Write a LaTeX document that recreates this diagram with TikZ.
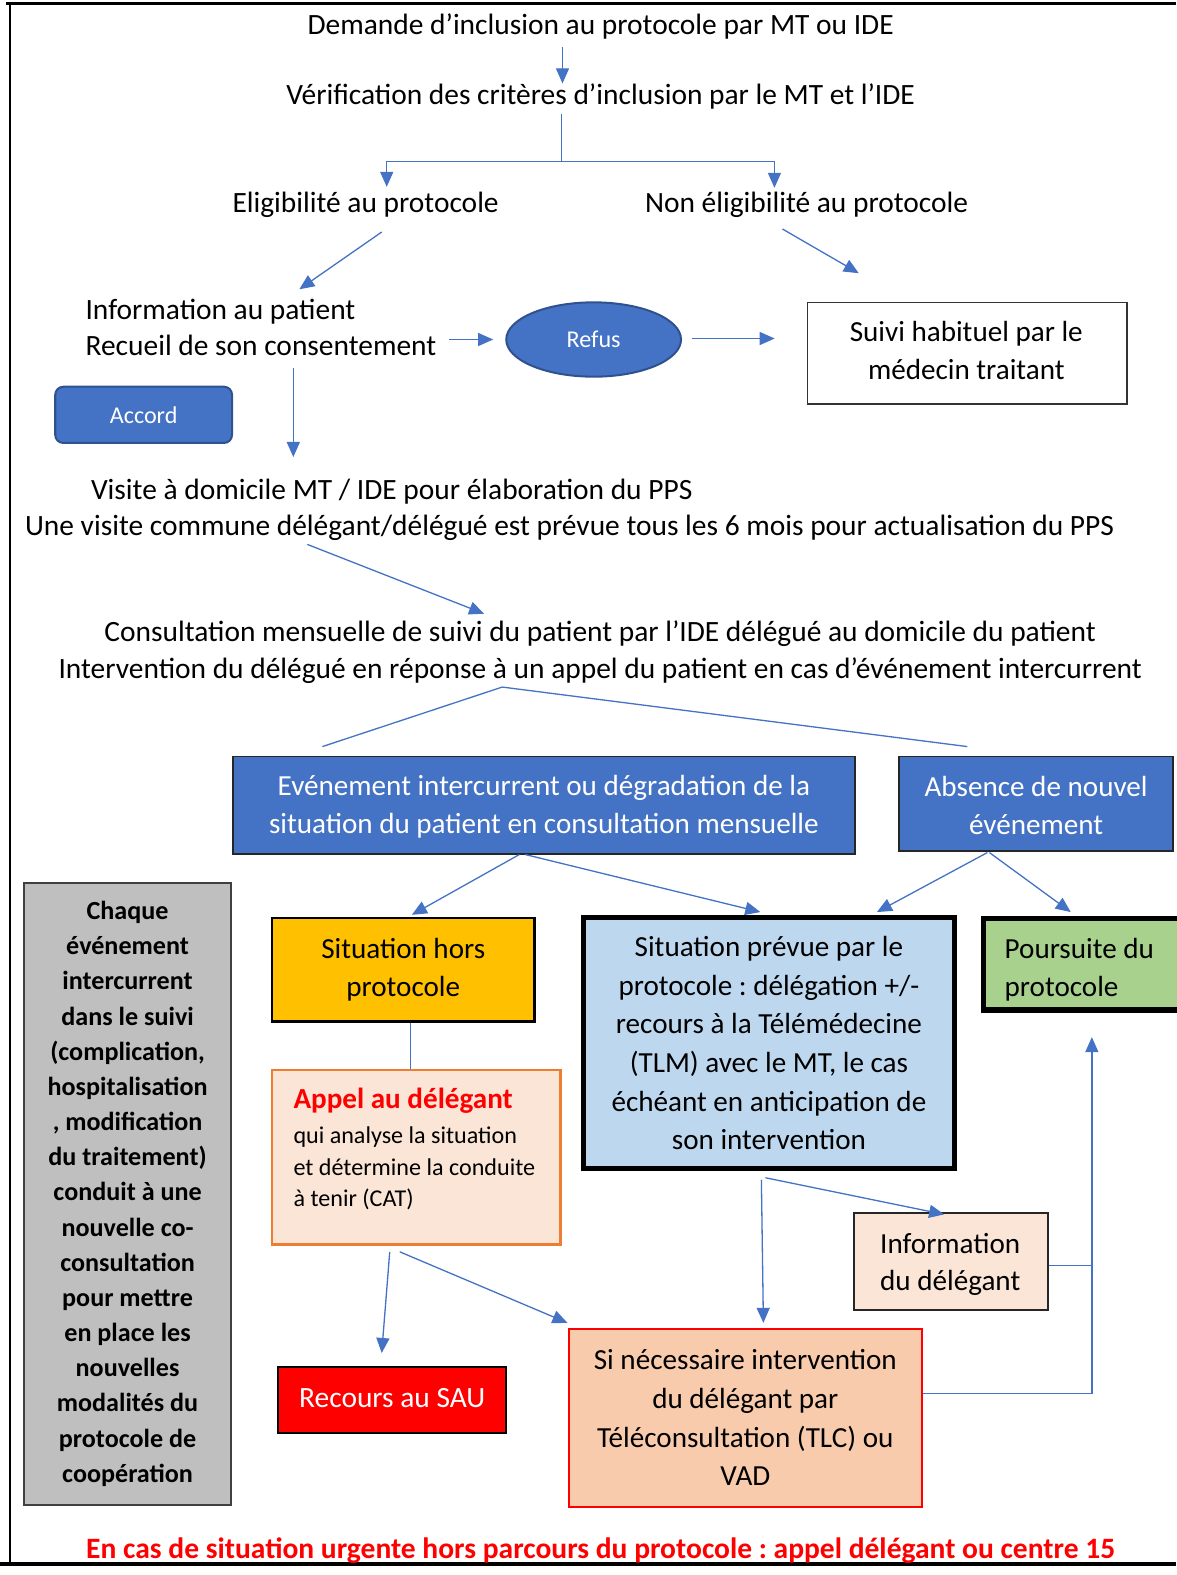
\documentclass[tikz,border=0pt]{standalone}
\usepackage{fontspec}
\setmainfont{Carlito}
\frenchspacing
\usetikzlibrary{arrows.meta,shapes.geometric,calc}
\definecolor{lineblue}{HTML}{4472C4}
\definecolor{boxblue}{HTML}{4472C4}
\definecolor{darkblue}{HTML}{2F528F}
\definecolor{greyfill}{HTML}{BFBFBF}
\definecolor{greyline}{HTML}{404040}
\definecolor{goldfill}{HTML}{FFC000}
\definecolor{peach}{HTML}{FBE5D6}
\definecolor{orangeline}{HTML}{ED7D31}
\definecolor{lightbluefill}{HTML}{BDD7EE}
\definecolor{greenfill}{HTML}{A9D18E}
\definecolor{salmonfill}{HTML}{F8CBAD}
\tikzset{
  conn/.style={draw=lineblue, line width=1.3pt},
  arr/.style={conn, -{Triangle[length=15pt,width=13pt]}},
  txt/.style={inner sep=0pt, text height=23pt, text depth=5pt, font=\fontsize{29.3}{36}\selectfont},
  smalltxt/.style={inner sep=0pt, text height=17pt, text depth=6pt, font=\fontsize{24}{31}\selectfont, anchor=west},
  boxbase/.style={inner sep=0pt, align=center, font=\fontsize{29}{38.5}\selectfont},
  bluebox/.style={draw=black!85, line width=1.5pt, fill=boxblue, inner sep=0pt},
  bluetxt/.style={inner sep=0pt, align=center, text=white, font=\fontsize{29}{38}\selectfont},
  refusst/.style={ellipse, draw=darkblue, line width=2pt, fill=boxblue, text=white, inner sep=0pt, minimum width=174pt, minimum height=74pt, font=\fontsize{24}{30}\selectfont},
  accordst/.style={rectangle, rounded corners=8pt, draw=darkblue, line width=2pt, fill=boxblue, text=white, inner sep=0pt, minimum width=176pt, minimum height=56pt, font=\fontsize{24}{30}\selectfont},
  suivist/.style={boxbase, draw=black!80, line width=1.5pt, fill=white, minimum width=318pt, minimum height=101pt},
  suivitxt/.style={inner sep=0pt, align=center, font=\fontsize{29}{38}\selectfont},
  chaquest/.style={boxbase, draw=greyline, line width=2pt, fill=greyfill, minimum width=206pt, minimum height=619pt, font=\fontsize{26}{35}\selectfont\bfseries},
  shst/.style={boxbase, draw=black, line width=2.5pt, fill=goldfill, minimum width=261pt, minimum height=103pt, font=\fontsize{29}{38}\selectfont},
  appelst/.style={draw=orangeline, line width=2.5pt, fill=peach, inner sep=0pt, minimum width=287pt, minimum height=174pt},
  spst/.style={boxbase, draw=black, line width=5pt, fill=lightbluefill, minimum width=370pt, minimum height=250pt},
  ppst/.style={draw=black, line width=5pt, fill=greenfill, inner sep=0pt, minimum width=215pt, minimum height=91pt},
  pptxt/.style={inner sep=0pt, align=left, anchor=west, font=\fontsize{29}{38}\selectfont},
  infost/.style={draw=black!85, line width=2pt, fill=peach, inner sep=0pt, minimum width=193pt, minimum height=96pt},
  recst/.style={draw=black, line width=2pt, fill=red, inner sep=0pt, minimum width=227pt, minimum height=66pt},
  sist/.style={boxbase, draw=red, line width=2pt, fill=salmonfill, minimum width=352pt, minimum height=177pt},
}
\begin{document}
\begin{tikzpicture}[x=1pt,y=-1pt]
\useasboundingbox (0,0) rectangle (1171,1568);
% page frame
\draw[line width=3pt] (6,3.5) -- (1171,3.5);
\draw[line width=1.5pt] (10,3.5) -- (10,1557);
\draw[line width=4pt] (0,1557) -- (1171,1557);

% texts
\node[txt] (t1) at (598,25) {Demande d’inclusion au protocole par MT ou IDE};
\node[txt] (t2) at (598,95) {Vérification des critères d’inclusion par le MT et l’IDE};
\node[txt] (t3) at (364,203) {Eligibilité au protocole};
\node[txt] (t4) at (803,203) {Non éligibilité au protocole};
\node[txt,anchor=west] (t5a) at (85,309) {Information au patient};
\node[txt,anchor=west] (t5b) at (85,345) {Recueil de son consentement};
\node[refusst] (refus) at (591,338) {Refus};
\node[suivist] (suivi) at (963,351.5) {};
\node[suivitxt] (suivit) at (962,349) {Suivi habituel par le\\médecin traitant};
\node[accordst] (accord) at (143,413) {Accord};
\node[txt] (t6) at (390,488) {Visite à domicile MT / IDE pour élaboration du PPS};
\node[txt] (t7) at (567,524) {Une visite commune délégant/délégué est prévue tous les 6 mois pour actualisation du PPS};
\node[txt] (t8) at (597.5,630) {Consultation mensuelle de suivi du patient par l’IDE délégué au domicile du patient};
\node[txt] (t9) at (597.5,666) {Intervention du délégué en réponse à un appel du patient en cas d’événement intercurrent};

% boxes
\node[bluebox, minimum width=619pt, minimum height=97pt] (e1) at (541.5,801.5) {};
\node[bluetxt] (e1t) at (541.5,803.5) {Evénement intercurrent ou dégradation de la\\situation du patient en consultation mensuelle};
\node[bluebox, minimum width=273pt, minimum height=94pt] (e2) at (1031.5,800) {};
\node[bluetxt] (e2t) at (1031.5,802) {Absence de nouvel\\événement};
\node[chaquest] (chaque) at (127,1188.5) {Chaque\\événement\\intercurrent\\dans le suivi\\(complication,\\hospitalisation\\, modification\\du traitement)\\conduit à une\\nouvelle co-\\consultation\\pour mettre\\en place les\\nouvelles\\modalités du\\protocole de\\coopération};
\node[shst] (sh) at (401.5,965.5) {Situation hors\\protocole};
\node[appelst] (appel) at (414.5,1152) {};
\node[txt, anchor=west, text height=21pt, text depth=7pt, font=\fontsize{29}{36}\selectfont\bfseries, text=red] (ap1) at (292,1097) {Appel au délégant};
\node[smalltxt] (ap2) at (292,1133) {qui analyse la situation};
\node[smalltxt] (ap3) at (292,1165) {et détermine la conduite};
\node[smalltxt] (ap4) at (292,1196) {à tenir (CAT)};
\node[spst] (sp) at (765.5,1038.5) {Situation prévue par le\\protocole : délégation +/-\\recours à la Télémédecine\\(TLM) avec le MT, le cas\\échéant en anticipation de\\son intervention};
\node[ppst] (pp) at (1087,960) {};
\node[pptxt] (ppt) at (1000,965) {Poursuite du\\protocole};
\node[infost] (info) at (946.5,1256) {};
\node[suivitxt, font=\fontsize{29}{37}\selectfont] (infot) at (946,1259) {Information\\du délégant};
\node[recst] (recours) at (390.5,1394) {};
\node[txt, text=white] (recourst) at (390.5,1392) {Recours au SAU};
\node[sist] (si) at (742,1411.5) {Si nécessaire intervention\\du délégant par\\Téléconsultation (TLC) ou\\VAD};
\node[txt, font=\fontsize{29.4}{36}\selectfont\bfseries, text=red] (t10) at (598,1543) {En cas de situation urgente hors parcours du protocole : appel délégant ou centre 15};

% connectors
\draw[arr] ($(t1)+(-38,22)$) -- ($(t2)+(-38,-12)$);
\draw[arr] ($(t2)+(-39,18)$) -- ($(t2)+(-39,66)$) -| ($(t3)+(21,-17)$);
\draw[arr] ($(t2)+(-39,18)$) -- ($(t2)+(-39,66)$) -| ($(t4)+(-32,-16)$);
\draw[arr] ($(t3)+(16,28)$) -- ($(t5a.west)+(213,-21)$);
\draw[arr] ($(t4)+(-24,25)$) -- ($(suivi)+(-108,-79.5)$);
\draw[arr] ($(t5b.west)+(362,-7)$) -- ($(refus.west)+(-12,0)$);
\draw[arr] ($(refus.east)+(10,-1)$) -- ($(suivi.west)+(-32,-14.5)$);
\draw[arr] ($(t5b.west)+(207,21)$) -- ($(t6)+(-98,-33)$);
\draw[arr] ($(t7)+(-261,18)$) -- ($(t8)+(-115.5,-19)$);
\draw[conn] ($(t9)+(-97.5,18)$) -- ($(e1.north)+(-220.5,-9)$);
\draw[conn] ($(t9)+(-97.5,18)$) -- ($(e2.north)+(-68.5,-9)$);
\draw[arr] ($(e1.south)+(-24.5,0)$) -- ($(sh.north)+(8.5,-2)$);
\draw[arr] ($(e1.south)+(-18.5,0)$) -- ($(sp.north)+(-8.5,-3)$);
\draw[arr] ($(e2.south)+(-48.5,1)$) -- ($(sp.north)+(107.5,-3)$);
\draw[arr] ($(e2.south)+(-46.5,1)$) -- ($(pp.north)+(-21,-4)$);
\draw[conn] ($(sh.south)+(7.5,0)$) -- ($(appel.north)+(-5.5,0)$);
\draw[arr] ($(sp.south)+(-3.5,6.5)$) -- ($(info.north)+(-6.5,2)$);
\draw[arr] ($(sp.south)+(-7.5,8.5)$) -- ($(si.north)+(18,-5)$);
\draw[arr] ($(appel.south)+(-26.5,6)$) -- ($(recours.north)+(-10.5,-13)$);
\draw[arr] ($(appel.south)+(-16.5,6)$) -- ($(si.north west)+(0,-5)$);
\draw[arr] ($(si.east)+(0,-24.5)$) -| ($(pp.south)+(0,24.5)$);
\draw[conn] ($(info.east)+(0,4)$) -- ($(info.east)+(44,4)$);
\end{tikzpicture}
\end{document}
